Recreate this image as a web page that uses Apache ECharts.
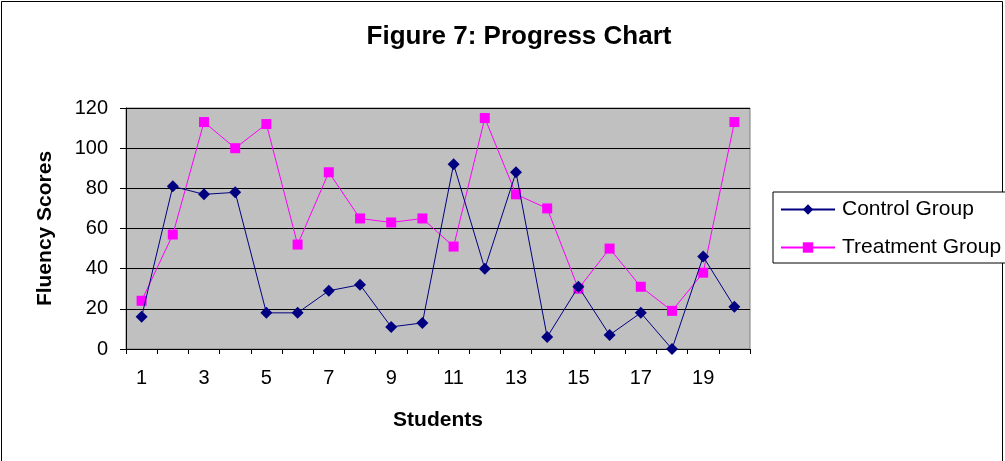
<!DOCTYPE html>
<html>
<head>
<meta charset="utf-8">
<script src="https://cdn.jsdelivr.net/npm/echarts@6/dist/echarts.min.js"></script>
<style>
  html, body { margin: 0; padding: 0; background: #ffffff; }
  #chart { width: 1005px; height: 461px; }
</style>
</head>
<body>
<div id="chart"></div>
<script>
// Student numbers along the horizontal axis
const students = ['1','2','3','4','5','6','7','8','9','10','11','12','13','14','15','16','17','18','19','20'];
// Fluency scores per student
const controlGroup   = [16, 81, 77, 78, 18, 18, 29, 32, 11, 13, 92, 40, 88, 6, 31, 7, 18, 0, 46, 21];
const treatmentGroup = [24, 57, 113, 100, 112, 52, 88, 65, 63, 65, 51, 115, 77, 70, 30, 50, 31, 19, 38, 113];
// Value axis range
const yMin = 0, yMax = 120, yStep = 20;

const FONT = '"Liberation Sans", Arial, sans-serif';
const chart = echarts.init(document.getElementById('chart'), null, { renderer: 'canvas' });

chart.setOption({
  animation: false,
  backgroundColor: '#ffffff',
  textStyle: { fontFamily: FONT, color: '#000' },
  title: {
    text: 'Figure 7: Progress Chart',
    left: 514, top: 19, textAlign: 'center',
    textStyle: { fontFamily: FONT, fontSize: 26, fontWeight: 'bold', color: '#000' }
  },
  grid: {
    left: 126, right: 255, top: 108, bottom: 112,
    show: true, backgroundColor: '#c0c0c0',
    borderColor: '#808080', borderWidth: 1
  },
  legend: {
    orient: 'vertical',
    left: 773, top: 192,
    padding: [7, 8, 5, 7],
    itemGap: 17,
    itemWidth: 54, itemHeight: 13,
    borderColor: '#000', borderWidth: 1,
    backgroundColor: '#ffffff',
    textStyle: { fontFamily: FONT, fontSize: 21, color: '#000', padding: [0, 0, 0, 2] },
    data: ['Control Group', 'Treatment Group']
  },
  graphic: [{
    type: 'rect', silent: true, z: -1,
    shape: { x: 1.5, y: 1.5, width: 1001, height: 470 },
    style: { fill: 'none', stroke: '#000', lineWidth: 1 }
  }],
  xAxis: {
    type: 'category',
    data: students,
    boundaryGap: true,
    name: 'Students',
    nameLocation: 'middle',
    nameGap: 61,
    nameTextStyle: { fontFamily: FONT, fontSize: 21, fontWeight: 'bold', color: '#000' },
    axisLine: { lineStyle: { color: '#000', width: 1 } },
    axisTick: { show: true, alignWithLabel: false, interval: 0, length: 5, lineStyle: { color: '#000' } },
    axisLabel: { interval: 1, margin: 19, fontFamily: FONT, fontSize: 20, color: '#000' },
    splitLine: { show: false }
  },
  yAxis: {
    type: 'value',
    min: yMin, max: yMax, interval: yStep,
    name: 'Fluency Scores',
    nameLocation: 'middle',
    nameRotate: 90,
    nameGap: 70,
    nameTextStyle: { fontFamily: FONT, fontSize: 21, fontWeight: 'bold', color: '#000' },
    axisLine: { show: true, lineStyle: { color: '#000', width: 1 } },
    axisTick: { show: true, length: 6, lineStyle: { color: '#000' } },
    axisLabel: { margin: 18, fontFamily: FONT, fontSize: 20, color: '#000' },
    splitLine: { show: true, lineStyle: { color: '#000', width: 1 } }
  },
  series: [{
    name: 'Control Group',
    type: 'line',
    data: controlGroup,
    symbol: 'diamond', symbolSize: 12,
    itemStyle: { color: '#000080' },
    lineStyle: { color: '#000080', width: 1 },
    z: 3
  }, {
    name: 'Treatment Group',
    type: 'line',
    data: treatmentGroup,
    symbol: 'rect', symbolSize: 10,
    itemStyle: { color: '#ff00ff' },
    lineStyle: { color: '#ff00ff', width: 1 },
    z: 2
  }]
});
</script>
</body>
</html>
